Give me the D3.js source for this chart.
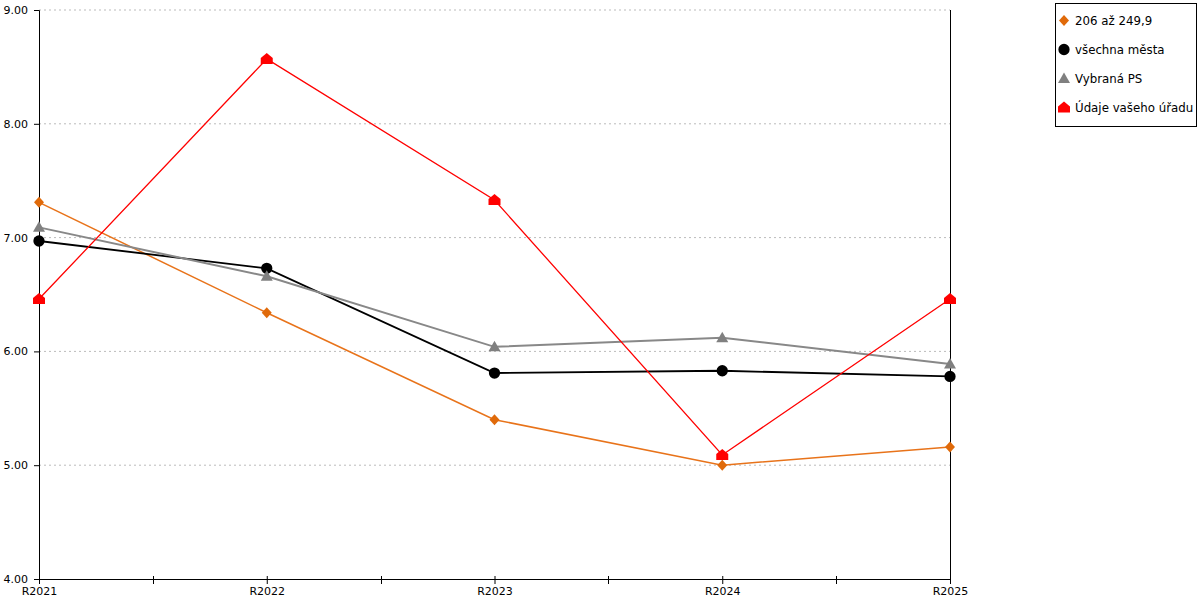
<!DOCTYPE html>
<html><head><meta charset="utf-8">
<script src="https://cdn.jsdelivr.net/npm/d3@7"></script>
<style>body{margin:0;background:#fff}svg{display:block;font-family:"DejaVu Sans",sans-serif}</style>
</head><body><svg id="c" width="1200" height="600"></svg>
<script>
const categories = ["R2021","R2022","R2023","R2024","R2025"];
const seriesNames = ["206 až 249,9","všechna města","Vybraná PS","Údaje vašeho úřadu"];
const s206 = [7.31, 6.34, 5.40, 5.00, 5.16];
const sAll = [6.97, 6.73, 5.81, 5.83, 5.78];
const sPS = [7.09, 6.66, 6.04, 6.12, 5.89];
const sUrad = [6.46, 8.57, 7.33, 5.09, 6.46];
const yTicks = [4, 5, 6, 7, 8, 9];

const colors = ["#E8731A", "#000000", "#888888", "#FF0000"];
const markerFill = ["#E06A0A", "#000000", "#808080", "#FF0000"];
const widths = [1.5, 1.8, 2, 1.3];
const shapes = ["diamond", "circle", "triangle", "house"];
const data = [s206, sAll, sPS, sUrad];

const svg = d3.select("#c");
const L = 39, R = 950, T = 10, B = 579;
const x = d3.scalePoint().domain(categories).range([L, R]).padding(0);
const y = d3.scaleLinear().domain([4, 9]).range([B, T]);

// gridlines
svg.append("g").selectAll("line").data(yTicks.slice(1)).join("line")
  .attr("x1", L).attr("x2", R).attr("y1", d => y(d)).attr("y2", d => y(d))
  .attr("stroke", "#bbb").attr("stroke-dasharray", "2,3").attr("stroke-width", 1);

// y axis
const ya = svg.append("g").attr("transform", `translate(${L},0)`)
  .call(d3.axisLeft(y).tickValues(yTicks).tickFormat(d3.format(".2f")).tickSize(5).tickPadding(6));
ya.select(".domain").attr("stroke", "#000");
ya.selectAll("text").attr("font-size", 11).attr("fill", "#000").attr("font-family", "DejaVu Sans");

// right line
svg.append("line").attr("x1", R + 0.5).attr("x2", R + 0.5).attr("y1", T).attr("y2", B).attr("stroke", "#000");

// x axis
const xa = svg.append("g").attr("transform", `translate(0,${B})`)
  .call(d3.axisBottom(x).tickSize(5).tickPadding(4));
xa.select(".domain").attr("d", `M${L},0.5H${R}`).attr("stroke", "#000");
xa.selectAll(".tick line").attr("y1", -3);
xa.selectAll("text").attr("font-size", 11).attr("fill", "#000").attr("font-family", "DejaVu Sans").attr("dy", "0.6em");
const mids = categories.slice(0, -1).map((c, i) => (x(c) + x(categories[i + 1])) / 2);
xa.append("g").selectAll("line").data(mids).join("line")
  .attr("x1", d => Math.round(d) + 0.5).attr("x2", d => Math.round(d) + 0.5).attr("y1", -3).attr("y2", 5)
  .attr("stroke", "#000");

function markerPath(shape) {
  if (shape === "diamond") return "M0,-5.5L5,0L0,5.5L-5,0Z";
  if (shape === "circle") return d3.symbol(d3.symbolCircle, 100)();
  if (shape === "triangle") return "M0,-6L6,4.5L-6,4.5Z";
  return "M0,-6L6,-1L6,5L-6,5L-6,-1Z";
}

data.forEach((vals, si) => {
  const line = d3.line().x((d, i) => x(categories[i])).y(d => y(d));
  svg.append("path").datum(vals).attr("d", line).attr("fill", "none")
    .attr("stroke", colors[si]).attr("stroke-width", widths[si]);
});
data.forEach((vals, si) => {
  svg.append("g").selectAll("path").data(vals).join("path")
    .attr("transform", (d, i) => `translate(${x(categories[i])},${y(d)})`)
    .attr("d", markerPath(shapes[si])).attr("fill", markerFill[si]);
});

// legend
const lg = svg.append("g");
lg.append("rect").attr("x", 1055.5).attr("y", 3.5).attr("width", 141).attr("height", 123)
  .attr("fill", "#fff").attr("stroke", "#000");
seriesNames.forEach((n, i) => {
  const cy = 20.5 + i * 29;
  lg.append("path").attr("transform", `translate(1064,${cy})`).attr("d", markerPath(shapes[i])).attr("fill", markerFill[i]);
  lg.append("text").attr("x", 1075).attr("y", cy).attr("dy", "0.35em").attr("font-size", 11.8).text(n);
});
</script></body></html>
